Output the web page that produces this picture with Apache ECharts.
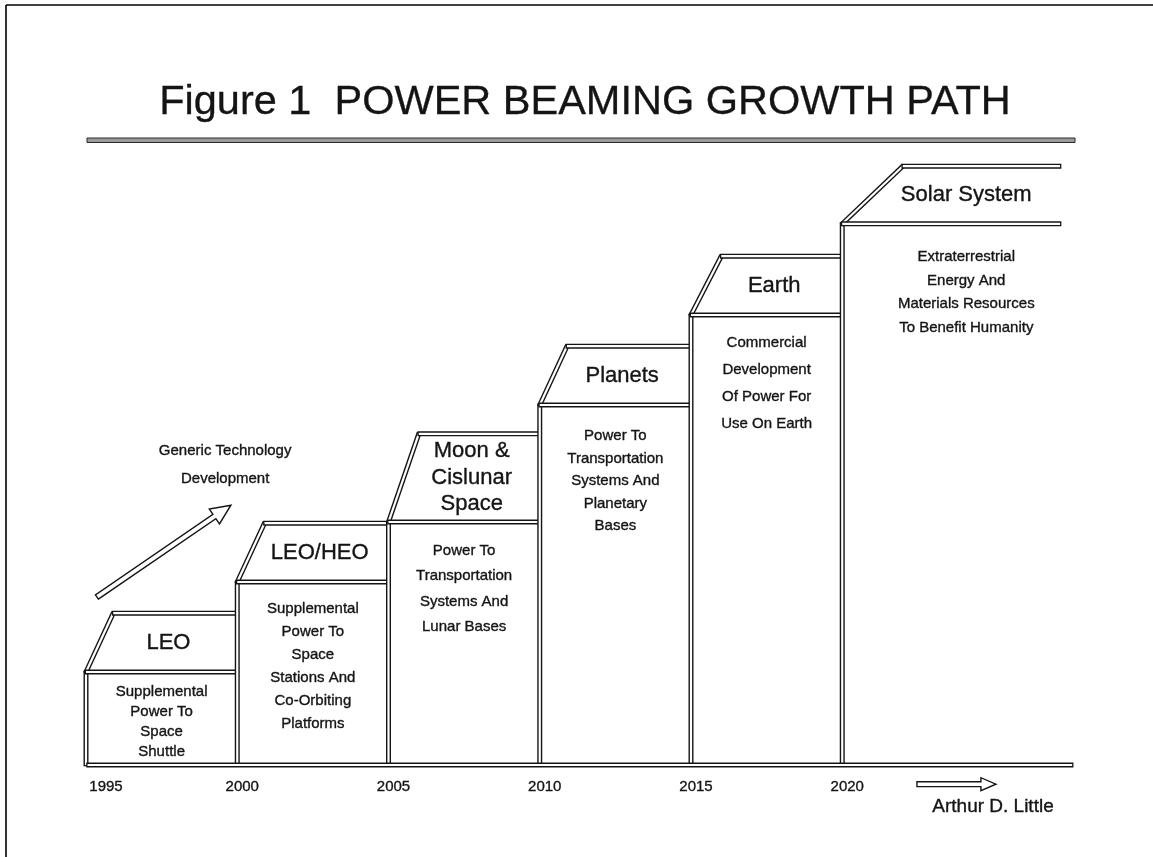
<!DOCTYPE html>
<html><head><meta charset="utf-8">
<script src="https://cdn.jsdelivr.net/npm/echarts@6/dist/echarts.min.js"></script>
<style>html,body{margin:0;padding:0;background:#fff}#c{width:1153px;height:857px}</style>
</head><body><div id="c"></div>
<script>
// ---------- data ----------
const titleText = 'Figure 1  POWER BEAMING GROWTH PATH';
const stepNames = ['LEO', 'LEO/HEO', 'Moon &\nCislunar\nSpace', 'Planets', 'Earth', 'Solar System'];
const stepStart = [1995, 2000, 2005, 2010, 2015, 2020];
const stepEnd   = [2000, 2005, 2010, 2015, 2020, 2027.2];
const boxLevel  = [15.5, 30.5, 40.5, 60, 75, 90.2];
const roofLevel = [25.3, 40.3, 55.2, 69.8, 84.8, 99.8];
const roofRun   = [0.9, 0.9, 1.0, 0.9, 1.0, 2.0];
const stepDescriptions = [
  'Supplemental\nPower To\nSpace\nShuttle',
  'Supplemental\nPower To\nSpace\nStations And\nCo-Orbiting\nPlatforms',
  'Power To\nTransportation\nSystems And\nLunar Bases',
  'Power To\nTransportation\nSystems And\nPlanetary\nBases',
  'Commercial\nDevelopment\nOf Power For\nUse On Earth',
  'Extraterrestrial\nEnergy And\nMaterials Resources\nTo Benefit Humanity'
];
const yearTicks = [1995, 2000, 2005, 2010, 2015, 2020];
const baselineSpan = [1995.05, 2027.6];
const growthArrow = [[1995.36, 28], [1999.79, 43.3]];
const timeArrow = [[2022.47, -3.2], [2025.08, -3.2]];
const growthNote = 'Generic Technology\nDevelopment';
const growthNoteAt = [1999.6, 52.3];
const creditText = 'Arthur D. Little';

// ---------- layout / style ----------
const FONT = '"Liberation Sans", Arial, Helvetica, sans-serif';
const INK = '#141414';
const descLayout = [
  {off: 20, gap: 20, shift: 0},
  {off: 27, gap: 23, shift: 0},
  {off: 29, gap: 25.3, shift: 0},
  {off: 31, gap: 22.5, shift: 0},
  {off: 28, gap: 27, shift: 0},
  {off: 33, gap: 23.7, shift: 0.5}
];
const textInk = {fill: INK, stroke: INK, lineWidth: 0.35};

function pipe(p1, p2) {
  const dx = p2[0] - p1[0], dy = p2[1] - p1[1];
  const L = Math.hypot(dx, dy) || 1;
  const ux = dx / L, uy = dy / L, e = 1.3;
  const a = [p1[0] - ux * e, p1[1] - uy * e], b = [p2[0] + ux * e, p2[1] + uy * e];
  return [
    {type: 'line', shape: {x1: a[0], y1: a[1], x2: b[0], y2: b[1]}, style: {stroke: INK, lineWidth: 5, lineCap: 'butt'}},
    {type: 'line', shape: {x1: p1[0], y1: p1[1], x2: p2[0], y2: p2[1]}, style: {stroke: '#fff', lineWidth: 2.2, lineCap: 'butt'}}
  ];
}

function hollowArrow(p1, p2, hw, hh, hl) {
  const dx = p2[0] - p1[0], dy = p2[1] - p1[1];
  const L = Math.hypot(dx, dy);
  const ux = dx / L, uy = dy / L, nx = -uy, ny = ux;
  const bx = p2[0] - ux * hl, by = p2[1] - uy * hl;
  const pts = [
    [p1[0] + nx * hw, p1[1] + ny * hw],
    [bx + nx * hw, by + ny * hw],
    [bx + nx * hh, by + ny * hh],
    [p2[0], p2[1]],
    [bx - nx * hh, by - ny * hh],
    [bx - nx * hw, by - ny * hw],
    [p1[0] - nx * hw, p1[1] - ny * hw]
  ];
  return {type: 'polygon', shape: {points: pts}, style: {fill: '#fff', stroke: INK, lineWidth: 1.4, lineJoin: 'miter'}};
}

function renderStep(params, api) {
  const i = params.dataIndex;
  const x0 = stepStart[i], x1 = stepEnd[i];
  const pBase = api.coord([x0, 0]);
  const pBox = api.coord([x0, boxLevel[i]]);
  const pBoxEnd = api.coord([x1, boxLevel[i]]);
  const pRoof = api.coord([x0 + roofRun[i], roofLevel[i]]);
  const pRoofEnd = api.coord([x1, roofLevel[i]]);
  const children = [];
  children.push(...pipe(pBase, pBox));
  children.push(...pipe(pBox, pRoof));
  children.push(...pipe(pBox, pBoxEnd));
  children.push(...pipe(pRoof, pRoofEnd));
  const nameX = ((pBox[0] + pRoof[0]) / 2 + pBoxEnd[0]) / 2;
  const nameY = (pBox[1] + pRoof[1]) / 2;
  children.push({type: 'text', x: nameX, y: nameY, style: Object.assign({
    text: stepNames[i], font: '22px ' + FONT, lineHeight: 26.5,
    align: 'center', verticalAlign: 'middle'}, textInk)});
  const lay = descLayout[i];
  const dX = api.coord([(x0 + x1) / 2 + lay.shift, 0])[0];
  children.push({type: 'text', x: dX, y: pBox[1] + lay.off - lay.gap / 2, style: Object.assign({
    text: stepDescriptions[i], font: '15px ' + FONT, lineHeight: lay.gap,
    align: 'center', verticalAlign: 'top'}, textInk)});
  return {type: 'group', children};
}

function renderDecor(params, api) {
  const children = [];
  const b0 = api.coord([baselineSpan[0], 0]), b1 = api.coord([baselineSpan[1], 0]);
  children.push(...pipe(b0, b1));
  children.push(hollowArrow(api.coord(growthArrow[0]), api.coord(growthArrow[1]), 2.6, 9, 20));
  children.push(hollowArrow(api.coord(timeArrow[0]), api.coord(timeArrow[1]), 2.4, 6.5, 15));
  const g = api.coord(growthNoteAt);
  children.push({type: 'text', x: g[0], y: g[1] - 14, style: Object.assign({
    text: growthNote, font: '15px ' + FONT, lineHeight: 28,
    align: 'center', verticalAlign: 'top'}, textInk)});
  return {type: 'group', children};
}

const chart = echarts.init(document.getElementById('c'), null, {renderer: 'canvas'});
chart.setOption({
  backgroundColor: '#fff',
  animation: false,
  title: {
    text: titleText, left: 580, textAlign: 'center', top: 77,
    textStyle: {fontFamily: FONT, fontSize: 41.5, fontWeight: 'normal', color: INK,
      textBorderColor: INK, textBorderWidth: 0.3}
  },
  grid: {left: 86, right: 68.75, top: 165, bottom: 92},
  xAxis: {
    type: 'value', min: 1995, max: 2028, interval: 5,
    axisLine: {show: false}, axisTick: {show: false}, splitLine: {show: false},
    axisLabel: {
      margin: 14, showMaxLabel: false,
      formatter: v => yearTicks.indexOf(v) < 0 ? '' : (v === yearTicks[0] ? '{s|' + v + '}' : '{n|' + v + '}'),
      rich: {
        s: {fontFamily: FONT, fontSize: 15, color: INK, textBorderColor: INK, textBorderWidth: 0.35, padding: [0, 0, 0, 40]},
        n: {fontFamily: FONT, fontSize: 15, color: INK, textBorderColor: INK, textBorderWidth: 0.35, padding: [0, 0, 0, 10]}
      }
    }
  },
  yAxis: {type: 'value', min: 0, max: 100, show: false},
  graphic: [
    {type: 'line', shape: {x1: 6, y1: 5, x2: 1153, y2: 5}, style: {stroke: '#000', lineWidth: 1.6}},
    {type: 'line', shape: {x1: 6, y1: 5, x2: 6, y2: 857}, style: {stroke: '#000', lineWidth: 1.6}},
    {type: 'rect', shape: {x: 87, y: 138, width: 988, height: 4.5}, style: {fill: '#9a9a9a', stroke: '#2a2a2a', lineWidth: 1}},
    {type: 'text', x: 993, y: 807, style: {text: creditText, fill: INK, stroke: INK, lineWidth: 0.35, font: '19px ' + FONT, align: 'center', verticalAlign: 'middle'}}
  ],
  series: [
    {type: 'custom', name: 'steps', clip: false, z: 2, renderItem: renderStep, data: stepStart.map((s, i) => [s, boxLevel[i]])},
    {type: 'custom', name: 'decor', clip: false, z: 3, renderItem: renderDecor, data: [[baselineSpan[0], 0]]}
  ]
});
</script>
</body></html>
